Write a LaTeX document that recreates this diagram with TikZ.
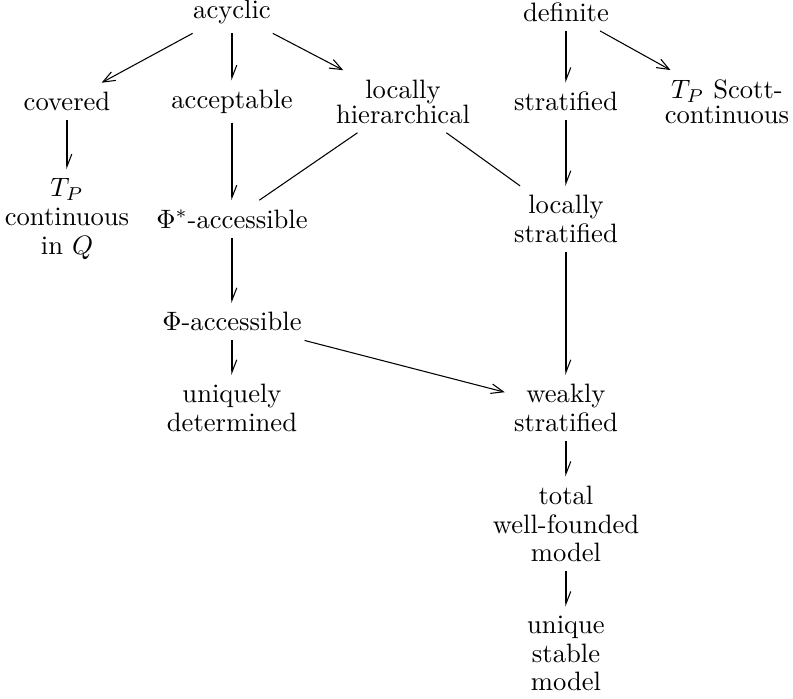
\documentclass[tikz,border=0pt]{standalone}
\usetikzlibrary{arrows.meta}
\begin{document}
\begin{tikzpicture}[x=0.3759pt,y=-0.3759pt,
  lbl/.style={align=center, font=\fontsize{10}{10.8}\selectfont},
  arr/.style={-{Straight Barb[length=4.6pt,width=3.6pt]}},
  varr/.style={-{Straight Barb[left,length=4.6pt,width=3.6pt]}}]
\useasboundingbox (0,0) rectangle (793,699);
% row 1
\node[lbl] (acy) at (232,12) {acyclic};
\node[lbl] (def) at (566,12) {definite};
% row 2
\node[lbl] (cov) at (67,101.5) {covered};
\node[lbl] (acc) at (232,101.5) {acceptable};
\node[lbl] (lh) at (403,101.5) {locally\\[-1.4pt]hierarchical};
\node[lbl] (str) at (566,101.5) {stratified};
\node[lbl] (tps) at (727,101.5) {$T_P$ Scott-\\[-1.4pt]continuous};
% row 3
\node[lbl] (tpc) at (67,219) {$T_P$\\continuous\\in $Q$};
\node[lbl] (phis) at (232,219) {$\Phi^*$-accessible};
\node[lbl] (ls) at (566,219) {locally\\stratified};
% row 4
\node[lbl] (phi) at (232,321.7) {$\Phi$-accessible};
% row 5
\node[lbl] (ud) at (232,408) {uniquely\\determined};
\node[lbl] (ws) at (566,408) {weakly\\stratified};
% row 6
\node[lbl] (twf) at (566,524) {total\\well-founded\\model};
% row 7
\node[lbl] (usm) at (566,653.5) {unique\\stable\\model};
% connectors
\draw[arr] (acy) -- (cov);
\draw[varr] (acy) -- (acc);
\draw[arr] (acy) -- (lh);
\draw[varr] (def) -- (str);
\draw[arr] (def) -- (tps);
\draw[varr] (cov) -- (tpc);
\draw[varr] (acc) -- (phis);
\draw (lh) -- (phis);
\draw (lh) -- (ls);
\draw[varr] (str) -- (ls);
\draw[varr] (phis) -- (phi);
\draw[varr] (phi) -- (ud);
\draw[arr] (phi) -- (ws);
\draw[varr] (ls) -- (ws);
\draw[varr] (ws) -- (twf);
\draw[varr] (twf) -- (usm);
\end{tikzpicture}
\end{document}
